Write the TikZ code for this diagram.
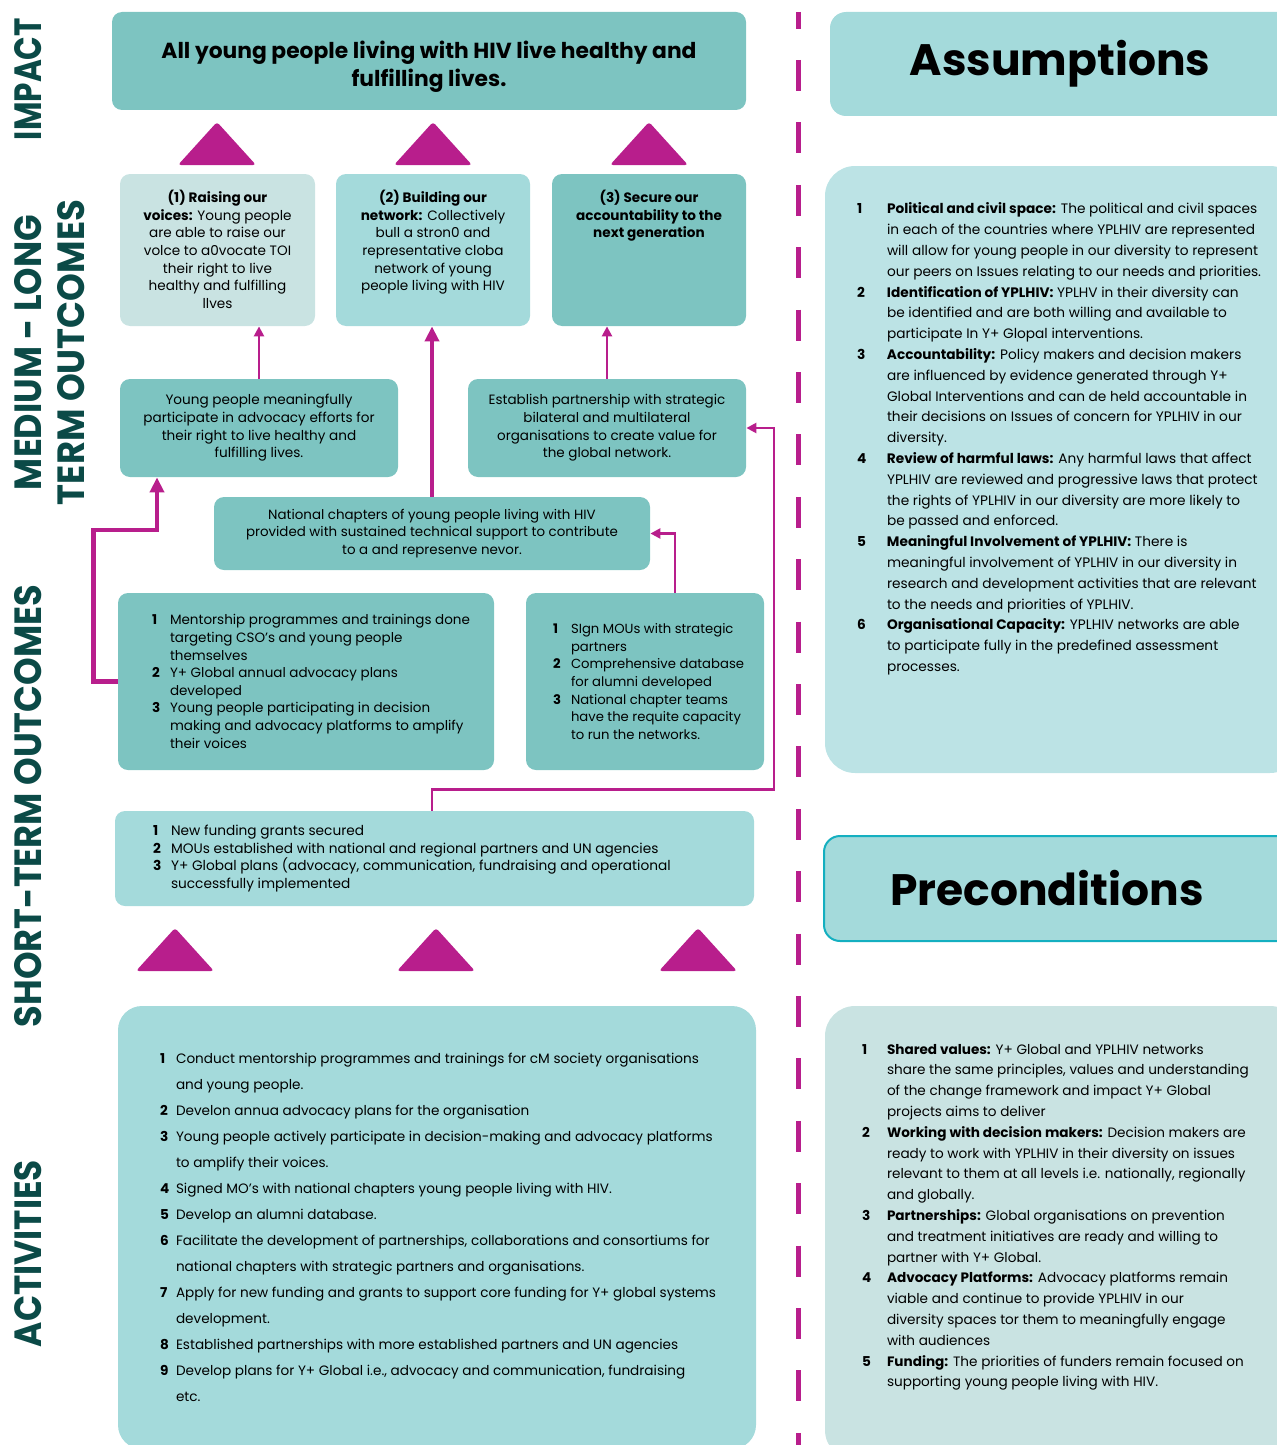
\documentclass[tikz,border=0pt]{standalone}
\usepackage{fontspec}
\setmainfont{Poppins}
\usepackage{graphicx}
\usetikzlibrary{arrows.meta,positioning}

\definecolor{tealdark}{HTML}{7DC4C1}
\definecolor{tealmid}{HTML}{A4DADB}
\definecolor{teallight}{HTML}{C9E3E2}
\definecolor{tealpale}{HTML}{BCE3E5}
\definecolor{plum}{HTML}{B81E8C}
\definecolor{labelgreen}{HTML}{0B4A47}
\definecolor{framecyan}{HTML}{14AFC0}

\newlength\numw
\newcommand{\numitem}[2]{\par\noindent\hangindent=\numw\hangafter=1\makebox[\numw][l]{\textbf{#1}}#2}

\begin{document}
\begin{tikzpicture}[x=0.5pt,y=-0.5pt,
    box/.style={fill=#1,rounded corners=5pt,inner sep=0pt,align=center},
    link/.style={draw=plum,line width=1.2pt,-{Triangle[width=5pt,length=5pt]}},
    biglink/.style={draw=plum,line width=2.2pt,-{Triangle[width=7pt,length=7.5pt]}},
    level/.style={rotate=90,text=labelgreen,inner sep=0pt,font=\bfseries},
    uptri/.style={fill=plum,rounded corners=1.5pt}]
  \useasboundingbox (0,0) rectangle (1277,1445);
  \clip (0,0) rectangle (1277,1445);

  % row labels
  \node[level] (l_imp) at (28.5,79)    {\resizebox{61pt}{13.5pt}{IMPACT}};
  \node[level] (l_med) at (28.5,352.5) {\resizebox{137.5pt}{13.5pt}{MEDIUM - LONG}};
  \node[level] (l_trm) at (71,352.5)   {\resizebox{152.5pt}{13.5pt}{TERM OUTCOMES}};
  \node[level] (l_sht) at (28.5,806)   {\resizebox{221pt}{13.5pt}{SHORT-TERM OUTCOMES}};
  \node[level] (l_act) at (28.5,1253.5){\resizebox{93.5pt}{13.5pt}{ACTIVITIES}};

  % impact
  \node[box=tealdark,minimum width=317pt,minimum height=49pt,
        font=\bfseries\fontsize{10.9}{14}\selectfont] (impact) at (429,61)
    {\parbox[c][49pt][c]{310pt}{\centering\vspace*{6pt}%
     All young people living with HIV live healthy and\\fulfilling lives.}};
  \foreach \x in {217,433,649}
    \fill[uptri] (\x-39,165) -- (\x,122) -- (\x+39,165) -- cycle;

  % medium - long term outcomes
  \node[box=teallight,minimum width=97.5pt,minimum height=76pt,
        font=\fontsize{6.8}{8.85}\selectfont] (o_1) at (217.5,250)
    {\parbox[c][76pt][t]{95pt}{\centering\vspace*{8pt}%
     \textbf{(1) Raising our}\\\textbf{voices:} Young people\\are able to raise our\\
     volce to a0vocate TOI\\their right to live\\healthy and fulfilling\\llves}};
  \node[box=tealmid,minimum width=97pt,minimum height=76pt,
        font=\fontsize{6.8}{8.85}\selectfont] (o_2) at (433,250)
    {\parbox[c][76pt][t]{95pt}{\centering\vspace*{8pt}%
     \textbf{(2) Building our}\\\textbf{network:} Collectively\\bull a stron0 and\\
     representative cloba\\network of young\\people living with HIV}};
  \node[box=tealdark,minimum width=97pt,minimum height=76pt,
        font=\fontsize{6.8}{8.85}\selectfont] (o_3) at (649,250)
    {\parbox[c][76pt][t]{95pt}{\centering\vspace*{8pt}%
     \textbf{(3) Secure our}\\\textbf{accountability to the}\\\textbf{next generation}}};

  \node[box=tealdark,minimum width=139pt,minimum height=49pt,
        font=\fontsize{6.8}{8.85}\selectfont] (ypart) at (259,428)
    {Young people meaningfully\\participate in advocacy efforts for\\their right to live healthy and\\fulfilling lives.};
  \node[box=tealdark,minimum width=139pt,minimum height=49pt,
        font=\fontsize{6.75}{8.85}\selectfont] (partner) at (607,428)
    {Establish partnership with strategic\\bilateral and multilateral\\organisations to create value for\\the global network.};
  \node[box=tealdark,minimum width=218pt,minimum height=36.5pt,
        font=\fontsize{6.7}{8.8}\selectfont] (natch) at (432,533.5)
    {National chapters of young people living with HIV\\provided with sustained technical support to contribute\\to a and represenve nevor.};

  % short-term outcomes
  \node[box=tealdark,minimum width=188pt,minimum height=88.5pt,
        font=\fontsize{6.75}{8.8}\selectfont] (s_1) at (306,681.5)
    {\hspace*{14pt}\parbox{168pt}{\setlength\numw{9pt}\raggedright
     \numitem{1}{Mentorship programmes and trainings done\newline targeting CSO's and young people\newline themselves}
     \numitem{2}{Y+ Global annual advocacy plans\newline developed}
     \numitem{3}{Young people participating in decision\newline making and advocacy platforms to amplify\newline their voices}}};
  \node[box=tealdark,minimum width=119pt,minimum height=88.5pt,
        font=\fontsize{6.6}{8.8}\selectfont] (s_2) at (645,681.5)
    {\hspace*{12pt}\parbox{104pt}{\setlength\numw{9pt}\raggedright
     \numitem{1}{SIgn MOUs with strategic\newline partners}
     \numitem{2}{Comprehensive database\newline for alumni developed}
     \numitem{3}{National chapter teams\newline have the requite capacity\newline to run the networks.}}};
  \node[box=tealmid,minimum width=319.5pt,minimum height=47.5pt,
        font=\fontsize{6.85}{8.9}\selectfont] (s_3) at (434.5,858.5)
    {\parbox{281.5pt}{\setlength\numw{9pt}\raggedright
     \numitem{1}{New funding grants secured}
     \numitem{2}{MOUs established with national and regional partners and UN agencies}
     \numitem{3}{Y+ Global plans (advocacy, communication, fundraising and operational\newline successfully implemented}}};
  \foreach \x in {175,436,698}
    \fill[uptri] (\x-39,971) -- (\x,928) -- (\x+39,971) -- cycle;

  % activities
  \node[box=tealmid,rounded corners=12pt,minimum width=319pt,minimum height=221.5pt,
        font=\fontsize{6.8}{13}\selectfont] (act) at (437,1227.5)
    {\hspace*{13pt}\parbox{290pt}{\setlength\numw{8pt}\raggedright
     \numitem{1}{Conduct mentorship programmes and trainings for cM society organisations\newline and young people.}
     \numitem{2}{Develon annua advocacy plans for the organisation}
     \numitem{3}{Young people actively participate in decision-making and advocacy platforms\newline to amplify their voices.}
     \numitem{4}{Signed MO's with national chapters young people living with HIV.}
     \numitem{5}{Develop an alumni database.}
     \numitem{6}{Facilitate the development of partnerships, collaborations and consortiums for\newline national chapters with strategic partners and organisations.}
     \numitem{7}{Apply for new funding and grants to support core funding for Y+ global systems\newline development.}
     \numitem{8}{Established partnerships with more established partners and UN agencies}
     \numitem{9}{Develop plans for Y+ Global i.e., advocacy and communication, fundraising\newline etc.}}};

  % connectors
  \draw[link] (ypart.north) -- (ypart.north |- o_1.south);
  \draw[biglink] (natch.north) -- (natch.north |- o_2.south);
  \draw[link] (partner.north) -- (partner.north |- o_3.south);
  \draw[biglink] (s_1.west) -- ++(-24,0) |- (157,530) -- (157,0 |- ypart.south);
  \draw[link] (s_2.north -| 675,0) |- (natch.east);
  \draw[link] (s_3.north -| 432,0) -- ++(0,-21) -| (774,0 |- partner.east) -- (partner.east);

  % divider
  \draw[plum,line width=2.5pt,dash pattern=on 15.5pt off 15.7pt,dash phase=7.2pt]
    (798,12) -- (798,1445);

  % assumptions
  \node[box=tealmid,rounded corners=8pt,minimum width=235pt,minimum height=52pt,
        font=\bfseries\fontsize{22}{26}\selectfont] (assump) at (1065,64)
    {Assumptions\hspace*{5pt}};
  \node[box=tealpale,rounded corners=15pt,minimum width=237.5pt,minimum height=303.5pt,
        font=\fontsize{6.85}{10.4}\selectfont] (assumptext) at (1062.5,469.5)
    {\hspace*{9.5pt}\parbox[c][303.5pt][t]{215pt}{\setlength\numw{15pt}\raggedright\vspace*{18.5pt}%
     \numitem{1}{\textbf{Political and civil space:} The political and civil spaces\newline in each of the countries where YPLHIV are represented\newline will allow for young people in our diversity to represent\newline our peers on Issues relating to our needs and priorities.}
     \numitem{2}{\textbf{Identification of YPLHIV:} YPLHV in their diversity can\newline be identified and are both willing and available to\newline participate In Y+ Glopal interventions.}
     \numitem{3}{\textbf{Accountability:} Policy makers and decision makers\newline are influenced by evidence generated through Y+\newline Global Interventions and can de held accountable in\newline their decisions on Issues of concern for YPLHIV in our\newline diversity.}
     \numitem{4}{\textbf{Review of harmful laws:} Any harmful laws that affect\newline YPLHIV are reviewed and progressive laws that protect\newline the rights of YPLHIV in our diversity are more likely to\newline be passed and enforced.}
     \numitem{5}{\textbf{Meaningful Involvement of YPLHIV:} There is\newline meaningful involvement of YPLHIV in our diversity in\newline research and development activities that are relevant\newline to the needs and priorities of YPLHIV.}
     \numitem{6}{\textbf{Organisational Capacity:} YPLHIV networks are able\newline to participate fully in the predefined assessment\newline processes.}}};

  % preconditions
  \node[box=tealmid,draw=framecyan,line width=1pt,rounded corners=8pt,minimum width=238pt,minimum height=52.5pt,
        font=\bfseries\fontsize{22}{26}\selectfont] (precond) at (1062,888.5)
    {Preconditions\hspace*{15pt}};
  \node[box=teallight,rounded corners=15pt,minimum width=237.5pt,minimum height=227pt,
        font=\fontsize{6.8}{10.4}\selectfont] (precondtext) at (1062.5,1233)
    {\hspace*{14.5pt}\parbox[c][227pt][t]{215pt}{\setlength\numw{12.5pt}\raggedright\vspace*{19pt}%
     \numitem{1}{\textbf{Shared values:} Y+ Global and YPLHIV networks\newline share the same principles, values and understanding\newline of the change framework and impact Y+ Global\newline projects aims to deliver}
     \numitem{2}{\textbf{Working with decision makers:} Decision makers are\newline ready to work with YPLHIV in their diversity on issues\newline relevant to them at all levels i.e. nationally, regionally\newline and globally.}
     \numitem{3}{\textbf{Partnerships:} Global organisations on prevention\newline and treatment initiatives are ready and willing to\newline partner with Y+ Global.}
     \numitem{4}{\textbf{Advocacy Platforms:} Advocacy platforms remain\newline viable and continue to provide YPLHIV in our\newline diversity spaces tor them to meaningfully engage\newline with audiences}
     \numitem{5}{\textbf{Funding:} The priorities of funders remain focused on\newline supporting young people living with HIV.}}};
\end{tikzpicture}
\end{document}
